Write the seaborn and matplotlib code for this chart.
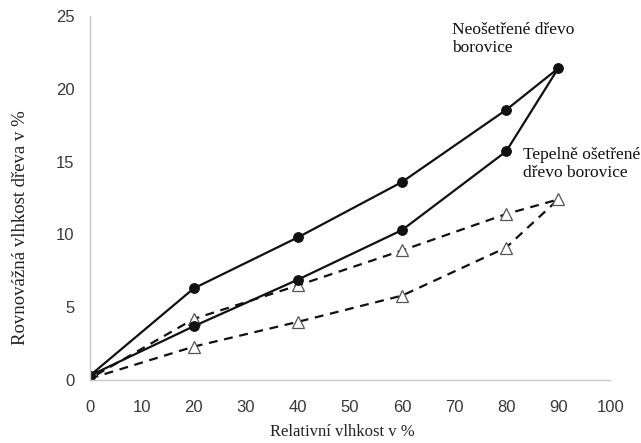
import matplotlib
matplotlib.use("Agg")
import matplotlib.pyplot as plt
import seaborn as sns
import pandas as pd

# Relative humidity (%) - sorption loop: adsorption up to 90 %, desorption back to 0 %
rh_loop = [0, 20, 40, 60, 80, 90, 80, 60, 40, 20, 0]

# Equilibrium moisture content (%) of untreated pine wood
emc_untreated = [0.3, 3.7, 6.9, 10.3, 15.7, 21.4, 18.55, 13.6, 9.8, 6.3, 0.3]
# Equilibrium moisture content (%) of heat-treated pine wood
emc_treated = [0.1, 2.3, 4.0, 5.8, 9.1, 12.4, 11.4, 8.9, 6.5, 4.2, 0.1]

x_ticks = [0, 10, 20, 30, 40, 50, 60, 70, 80, 90, 100]
y_ticks = [0, 5, 10, 15, 20, 25]

sns.set_style("white")
plt.rcParams["font.family"] = ["Liberation Sans", "DejaVu Sans"]

fig = plt.figure(figsize=(6.41, 4.43), dpi=100)
ax = fig.add_axes([0.140, 0.142, 0.812, 0.822])

df_u = pd.DataFrame({"rh": rh_loop, "emc": emc_untreated})
df_t = pd.DataFrame({"rh": rh_loop, "emc": emc_treated})

sns.lineplot(data=df_t, x="rh", y="emc", sort=False, estimator=None, ax=ax,
             color="#111111", linewidth=1.6, linestyle=(0, (4, 3)),
             marker="^", markersize=8, markerfacecolor="white",
             markeredgecolor="#555555", markeredgewidth=0.9)
sns.lineplot(data=df_u, x="rh", y="emc", sort=False, estimator=None, ax=ax,
             color="#111111", linewidth=1.6,
             marker="o", markersize=7, markerfacecolor="#111111",
             markeredgecolor="#111111")

ax.set_xlim(0, 100)
ax.set_ylim(0, 25)
ax.set_xticks(x_ticks)
ax.set_yticks(y_ticks)
ax.set_xticklabels([str(v) for v in x_ticks])
ax.set_yticklabels([str(v) for v in y_ticks])

for side in ("top", "right"):
    ax.spines[side].set_visible(False)
for side in ("left", "bottom"):
    ax.spines[side].set_color("#c8c8c8")
    ax.spines[side].set_linewidth(1.0)

ax.tick_params(axis="both", which="major", direction="out", length=5,
               width=1.0, color="#c8c8c8", labelsize=12,
               labelcolor="#3a3a3a", pad=6)
ax.tick_params(axis="x", pad=9)

serif = ["Liberation Serif", "DejaVu Serif"]
ax.set_xlabel("Relativní vlhkost v %", family=serif, fontsize=12,
              color="#222222")
ax.set_ylabel("Rovnovážná vlhkost dřeva v %", family=serif, fontsize=13.5,
              color="#222222")
ax.xaxis.set_label_coords(0.485, -0.12)
ax.yaxis.set_label_coords(-0.117, 0.418)

ax.text(69.6, 24.6, "Neošetřené dřevo\nborovice", family=serif,
        fontsize=12.5, color="#111111", va="top", ha="left",
        linespacing=1.15, clip_on=False)
ax.text(83.3, 16.0, "Tepelně ošetřené\ndřevo borovice", family=serif,
        fontsize=12.5, color="#111111", va="top", ha="left",
        linespacing=1.15, clip_on=False)

fig.savefig("out.png", dpi=100)
